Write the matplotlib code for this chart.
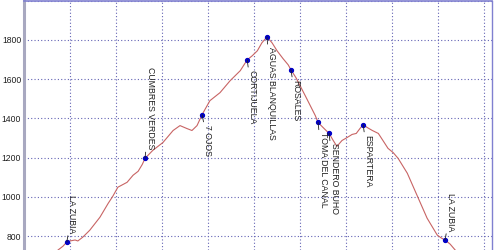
import matplotlib
matplotlib.use('Agg')
import matplotlib.pyplot as plt

# elevation profile (distance in km, elevation in m)
dist = [0.74, 0.85, 0.93, 1.00, 1.11, 1.17, 1.28, 1.43, 1.65, 1.83, 1.93, 2.04,
        2.24, 2.37, 2.48, 2.57, 2.63, 2.80, 3.02, 3.24, 3.39, 3.54, 3.65, 3.76,
        3.87, 4.04, 4.26, 4.48, 4.70, 4.85, 4.96, 5.07, 5.17, 5.28, 5.39, 5.50,
        5.63, 5.74, 5.80, 5.91, 6.00, 6.11, 6.22, 6.33, 6.39, 6.50, 6.63, 6.72,
        6.80, 6.91, 7.02, 7.13, 7.22, 7.30, 7.37, 7.46, 7.57, 7.70, 7.80, 7.91,
        8.02, 8.13, 8.33, 8.54, 8.76, 8.98, 9.07, 9.15, 9.26, 9.37]
elev = [729, 749, 770, 775, 780, 775, 795, 830, 896, 967, 1003, 1049,
        1074, 1110, 1130, 1165, 1196, 1237, 1277, 1338, 1363, 1348, 1338, 1363,
        1419, 1490, 1531, 1592, 1643, 1698, 1719, 1744, 1785, 1815, 1785, 1744,
        1704, 1673, 1648, 1607, 1566, 1516, 1465, 1414, 1379, 1353, 1323, 1287,
        1257, 1287, 1302, 1318, 1323, 1348, 1368, 1353, 1338, 1323, 1287, 1247,
        1226, 1196, 1120, 1008, 891, 805, 790, 780, 759, 729]

# waypoints
wp_names = ['LA ZUBIA', 'CUMBRES VERDES', '7 OJOS', 'CORTIJUELA', 'AGUAS BLANQUILLAS',
            'ROSALES', 'TOMA DEL CANAL', 'SENDERO BUHO', 'ESPARTERA', 'LA ZUBIA']
wp_dist = [0.93, 2.63, 3.87, 4.85, 5.28, 5.80, 6.39, 6.63, 7.37, 9.15]
wp_elev = [770, 1196, 1419, 1698, 1815, 1648, 1379, 1323, 1368, 780]
wp_above = [True, True, False, False, False, False, False, False, False, True]

yticks = [800, 1000, 1200, 1400, 1600, 1800, 2000]
ylabels = ['800', '1000', '1200', '1400', '1600', '1800', '']

plt.rcParams['font.family'] = ['Liberation Sans', 'DejaVu Sans']

fig = plt.figure(figsize=(5, 2.5), dpi=100)
ax = fig.add_axes([24 / 500, 0, 468 / 500, 1 - 0.6 / 250])

ax.plot(dist, elev, color='#c86464', lw=0.8, zorder=2)
ax.plot(wp_dist, wp_elev, 'o', ms=2.8, color='#0000c8', zorder=3, ls='none')

for name, x, y, above in zip(wp_names, wp_dist, wp_elev, wp_above):
    if above:
        ax.annotate(name, xy=(x, y), xytext=(0.5, 9), textcoords='offset pixels',
                    rotation=-90, rotation_mode='anchor', ha='right', va='bottom',
                    fontsize=6.3, color='#202020',
                    arrowprops=dict(arrowstyle='-', color='#202020', lw=0.6,
                                    shrinkA=0, shrinkB=0))
    else:
        ax.annotate(name, xy=(x, y), xytext=(0.5, -10), textcoords='offset pixels',
                    rotation=-90, rotation_mode='anchor', ha='left', va='bottom',
                    fontsize=6.3, color='#202020',
                    arrowprops=dict(arrowstyle='-', color='#202020', lw=0.6,
                                    shrinkA=0, shrinkB=0))

ax.set_xlim(0, 10.17)
ax.set_ylim(729, 2000)
ax.set_xticks(range(0, 11))
ax.set_yticks(yticks)
ax.set_yticklabels(ylabels)
ax.tick_params(axis='x', labelbottom=False, length=0)
ax.tick_params(axis='y', length=0, pad=2, labelsize=6.2, labelcolor='#202020')
ax.grid(True, color='#6464b4', ls=(0, (1, 2)), lw=0.8)

ax.spines['bottom'].set_visible(False)
ax.spines['left'].set_color('#a8a8c0')
ax.spines['left'].set_linewidth(2.2)
ax.spines['top'].set_color('#8080d0')
ax.spines['top'].set_linewidth(1.2)
ax.spines['right'].set_color('#8080d0')
ax.spines['right'].set_linewidth(1.0)

fig.savefig('out.png', dpi=100)
